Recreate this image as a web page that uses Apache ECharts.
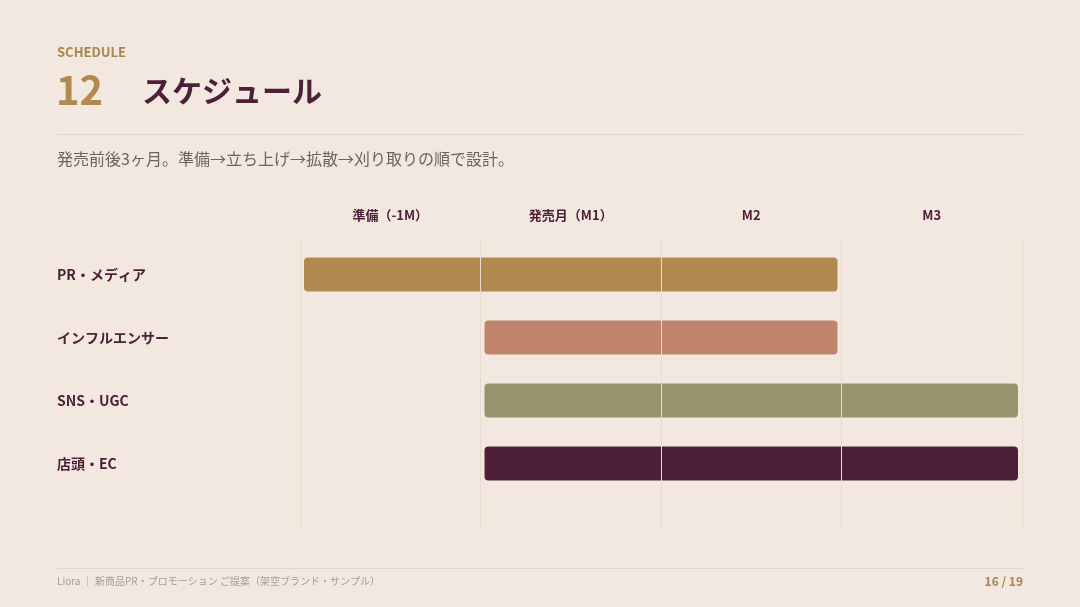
<!DOCTYPE html>
<html><head><meta charset="utf-8">
<script src="https://cdn.jsdelivr.net/npm/echarts@6/dist/echarts.min.js"></script>
<style>html,body{margin:0;background:#f3e8e0}#c{width:1080px;height:607px}</style>
</head><body><div id="c"></div>
<script>
var tasks = ['PR・メディア', 'インフルエンサー', 'SNS・UGC', '店頭・EC'];
var starts = [0, 1, 1, 1];
var ends = [3, 3, 4, 4];
var colors = ['#b08a4e', '#c0836c', '#96946c', '#4e2038'];
var months = ['準備（-1M）', '発売月（M1）', 'M2', 'M3'];

var chart = echarts.init(document.getElementById('c'));
var F = '"Noto Sans CJK JP", sans-serif';
var data = tasks.map(function (t, i) { return [i, starts[i], ends[i]]; });

chart.setOption({
  backgroundColor: '#f3e8e0',
  textStyle: { fontFamily: F },
  grid: [
    { left: 300, right: 58, top: 243, height: 252 },
    { left: 300, right: 58, top: 238, bottom: 77 }
  ],
  xAxis: [
    { gridIndex: 0, type: 'value', min: 0, max: 4, interval: 1, show: false },
    { gridIndex: 1, type: 'value', min: 0, max: 4, interval: 1, z: 10,
      axisLine: { show: false }, axisTick: { show: false }, axisLabel: { show: false },
      splitLine: { show: true, lineStyle: { color: '#e7dbd0', width: 1 } } },
    { gridIndex: 1, type: 'category', data: months, position: 'top',
      axisLine: { show: false }, axisTick: { show: false },
      axisLabel: { margin: 16, color: '#4e2038', fontWeight: 'bold', fontSize: 13, fontFamily: F } }
  ],
  yAxis: [
    { gridIndex: 0, type: 'category', data: tasks, inverse: true,
      axisLine: { show: false }, axisTick: { show: false },
      axisLabel: { color: '#4e2038', fontWeight: 'bold', fontSize: 14, fontFamily: F,
        align: 'left', margin: 243 } },
    { gridIndex: 1, type: 'value', show: false }
  ],
  series: [{
    type: 'custom', xAxisIndex: 0, yAxisIndex: 0,
    data: data,
    encode: { x: [1, 2], y: 0 },
    renderItem: function (params, api) {
      var a = api.coord([api.value(1), api.value(0)]);
      var b = api.coord([api.value(2), api.value(0)]);
      var h = 34;
      return {
        type: 'rect',
        shape: { x: a[0] + 4, y: a[1] - h / 2, width: b[0] - a[0] - 8, height: h, r: 4 },
        style: { fill: colors[params.dataIndex] }
      };
    }
  }],
  graphic: [
    { type: 'text', left: 57, top: 46, style: { text: 'SCHEDULE', fill: '#a8854e', font: 'bold 13px ' + F, letterSpacing: 3 } },
    { type: 'text', left: 56, top: 70, style: { text: '12', fill: '#b08a4e', font: 'bold 40px ' + F } },
    { type: 'text', left: 142, top: 76, style: { text: 'スケジュール', fill: '#4e2038', font: 'bold 30px ' + F } },
    { type: 'rect', shape: { x: 57, y: 134, width: 966, height: 1 }, style: { fill: '#e2d6cc' } },
    { type: 'text', left: 57, top: 151, style: { text: '発売前後3ヶ月。準備→立ち上げ→拡散→刈り取りの順で設計。', fill: '#6e6260', font: '16px ' + F } },
    { type: 'rect', shape: { x: 57, y: 568, width: 966, height: 1 }, style: { fill: '#e2d6cc' } },
    { type: 'text', left: 57, top: 576, style: { text: 'Liora ｜ 新商品PR・プロモーション ご提案（架空ブランド・サンプル）', fill: '#a89c96', font: '10px ' + F } },
    { type: 'text', right: 57, top: 575, style: { text: '16 / 19', fill: '#a8854e', font: 'bold 12px ' + F } }
  ]
});
</script></body></html>
